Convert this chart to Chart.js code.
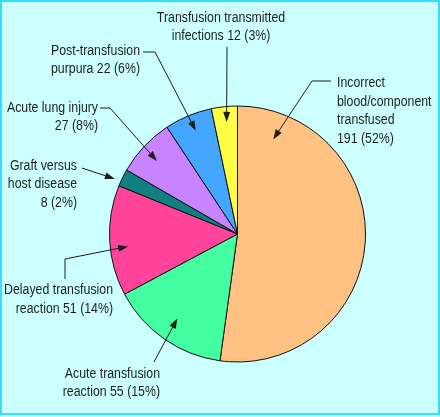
<!DOCTYPE html>
<html>
<head>
<meta charset="utf-8">
<script src="https://cdn.jsdelivr.net/npm/chart.js@4.4.0/dist/chart.umd.min.js"></script>
<style>
  html, body { margin: 0; padding: 0; background: #ccffff; }
  #wrap { width: 440px; height: 417px; position: relative; }
</style>
</head>
<body>
<div id="wrap"><canvas id="chart"></canvas></div>
<script>
const CATEGORIES = [
  'Incorrect\nblood/component\ntransfused',
  'Acute transfusion\nreaction',
  'Delayed transfusion\nreaction',
  'Graft versus\nhost disease',
  'Acute lung injury',
  'Post-transfusion\npurpura',
  'Transfusion transmitted\ninfections'
];
const VALUES   = [191, 55, 51, 8, 27, 22, 12];
const PERCENTS = [52, 15, 14, 2, 8, 6, 3];
const COLORS   = ['#ffc283', '#44ffa2', '#ff4499', '#118080', '#c884ff', '#44a6ff', '#ffff44'];

// condensed look: regular sans squeezed horizontally
const FONT = "14px 'Liberation Sans', Arial, sans-serif";
const SQUEEZE = 0.88;

// where each callout sits; t / r place the arrow tip inside its slice
const CALLOUTS = [
  { align: 'left',   x: 337, y: [87, 106, 124, 143], newLine: true,  path: [[331, 81], [312, 81]], t: .11, r: .79 },
  { align: 'right',  x: 160, y: [378, 396],          newLine: false, path: [[154, 362]],           t: .51, r: .81 },
  { align: 'right',  x: 113, y: [294, 313],          newLine: false, path: [[65, 279], [65, 259]], t: .43, r: .86 },
  { align: 'right',  x: 77,  y: [170, 188, 207],     newLine: true,  path: [[82, 168]],            t: .26, r: 1.05 },
  { align: 'right',  x: 98,  y: [112, 130],          newLine: true,  path: [[100, 108], [110, 108]], t: .46, r: .85 },
  { align: 'right',  x: 140, y: [55, 73],            newLine: false, path: [[143, 52], [155, 52]], t: .53, r: .87 },
  { align: 'center', x: 221, y: [22, 40],            newLine: false, path: [[227, 47]],            t: .53, r: .88 },
];

const frame = {
  id: 'frame',
  beforeDraw(chart) {
    const c = chart.ctx;
    c.save();
    c.fillStyle = '#ccffff';
    c.fillRect(0, 0, chart.width, chart.height);
    c.strokeStyle = '#33ddff';
    c.lineWidth = 2;
    c.strokeRect(1, 1, chart.width - 2, chart.height - 4);
    c.restore();
  }
};

function arrow(c, pts) {
  c.beginPath();
  c.moveTo(pts[0][0], pts[0][1]);
  const n = pts.length;
  const [tx, ty] = pts[n - 1];
  const [px, py] = pts[n - 2];
  const ang = Math.atan2(ty - py, tx - px);
  const len = 10, hw = 3.5;
  for (let i = 1; i < n - 1; i++) c.lineTo(pts[i][0], pts[i][1]);
  c.lineTo(tx - Math.cos(ang) * len * 0.8, ty - Math.sin(ang) * len * 0.8);
  c.stroke();
  c.beginPath();
  c.moveTo(tx, ty);
  c.lineTo(tx - Math.cos(ang) * len - Math.sin(ang) * hw, ty - Math.sin(ang) * len + Math.cos(ang) * hw);
  c.lineTo(tx - Math.cos(ang) * len + Math.sin(ang) * hw, ty - Math.sin(ang) * len - Math.cos(ang) * hw);
  c.closePath();
  c.fill();
}

const callouts = {
  id: 'callouts',
  afterDatasetsDraw(chart) {
    const c = chart.ctx;
    const meta = chart.getDatasetMeta(0);
    c.save();
    c.font = FONT;
    c.fillStyle = '#1e1e1e';
    c.strokeStyle = '#1e1e1e';
    c.lineWidth = 1;
    c.textBaseline = 'alphabetic';
    CALLOUTS.forEach((co, i) => {
      const txt = CATEGORIES[i] + (co.newLine ? '\n' : ' ') + VALUES[i] + ' (' + PERCENTS[i] + '%)';
      c.textAlign = co.align;
      c.save();
      c.scale(SQUEEZE, 1);
      txt.split('\n').forEach((ln, k) => c.fillText(ln, co.x / SQUEEZE, co.y[k]));
      c.restore();
      const a = meta.data[i].getProps(['x', 'y', 'startAngle', 'endAngle', 'outerRadius'], true);
      const ang = a.startAngle + co.t * (a.endAngle - a.startAngle);
      const tip = [a.x + Math.cos(ang) * a.outerRadius * co.r, a.y + Math.sin(ang) * a.outerRadius * co.r];
      arrow(c, [...co.path, tip]);
    });
    c.restore();
  }
};

new Chart(document.getElementById('chart'), {
  type: 'pie',
  data: {
    labels: CATEGORIES,
    datasets: [{
      data: VALUES,
      backgroundColor: COLORS,
      borderColor: '#111',
      borderWidth: 1,
      hoverOffset: 0,
    }]
  },
  options: {
    responsive: true,
    maintainAspectRatio: false,
    animation: false,
    radius: 128,
    layout: { padding: { left: 109, right: 74, top: 106, bottom: 55 } },
    plugins: {
      legend: { display: false },
      tooltip: { enabled: false }
    }
  },
  plugins: [frame, callouts]
});
</script>
</body>
</html>
